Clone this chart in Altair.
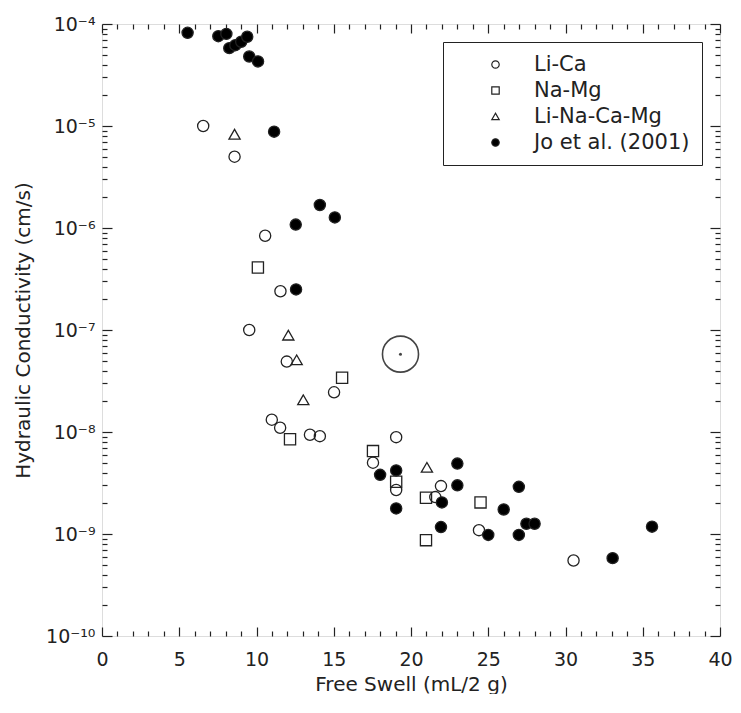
import altair as alt
import pandas as pd

# ---------------- data ----------------
series_names = ["Li-Ca", "Na-Mg", "Li-Na-Ca-Mg", "Jo et al. (2001)"]

lica_swell = [6.55, 8.58, 10.56, 11.55, 9.53, 11.96, 15.02, 10.99, 11.53, 13.46,
              14.1, 19.04, 17.54, 19.04, 21.94, 21.57, 24.4, 30.52]
lica_k = [1.0e-5, 5.0e-6, 8.4e-7, 2.4e-7, 1.0e-7, 4.9e-8, 2.45e-8, 1.32e-8, 1.1e-8, 9.4e-9,
          9.1e-9, 8.9e-9, 5.0e-9, 2.7e-9, 2.95e-9, 2.3e-9, 1.09e-9, 5.5e-10]

namg_swell = [10.09, 15.54, 12.17, 17.54, 19.04, 20.97, 24.5, 20.97]
namg_k = [4.1e-7, 3.4e-8, 8.5e-9, 6.5e-9, 3.25e-9, 2.27e-9, 2.04e-9, 8.7e-10]

mix_swell = [8.58, 12.06, 12.6, 13.03, 21.03]
mix_k = [8.3e-6, 8.9e-8, 5.1e-8, 2.07e-8, 4.5e-9]

jo_swell = [5.54, 7.53, 8.05, 8.24, 8.63, 9.01, 9.40, 9.53, 10.1, 11.14,
            14.1, 15.07, 12.54, 12.56, 18.0, 19.04, 19.04, 23.0, 23.0, 22.0,
            21.94, 25.0, 26.0, 26.98, 26.98, 27.47, 28.0, 33.05, 35.6]
jo_k = [8.2e-5, 7.6e-5, 8.0e-5, 5.8e-5, 6.2e-5, 6.7e-5, 7.5e-5, 4.8e-5, 4.3e-5, 8.8e-6,
        1.68e-6, 1.27e-6, 1.08e-6, 2.5e-7, 3.8e-9, 4.2e-9, 1.78e-9, 4.9e-9, 3.0e-9, 2.04e-9,
        1.17e-9, 9.8e-10, 1.74e-9, 2.9e-9, 9.8e-10, 1.26e-9, 1.26e-9, 5.8e-10, 1.18e-9]

highlight_swell = [19.32]
highlight_k = [5.8e-8]

x_major = [0, 5, 10, 15, 20, 25, 30, 35, 40]
x_minor = [v for v in range(0, 41) if v % 5 != 0]
y_major = [1e-10, 1e-9, 1e-8, 1e-7, 1e-6, 1e-5, 1e-4]
y_minor = [m * 10.0 ** e for e in range(-10, -4) for m in range(2, 10)]
y_tick_labels = ["10⁻¹⁰", "10⁻⁹", "10⁻⁸", "10⁻⁷", "10⁻⁶", "10⁻⁵", "10⁻⁴"]

rows = []
for name, xs, ks in zip(series_names,
                        [lica_swell, namg_swell, mix_swell, jo_swell],
                        [lica_k, namg_k, mix_k, jo_k]):
    for a, b in zip(xs, ks):
        rows.append({"series": name, "swell": a, "k": b})
df = pd.DataFrame(rows)
hl = pd.DataFrame({"swell": highlight_swell, "k": highlight_k})

# ---------------- styling ----------------
FONT = "DejaVu Sans"
INK = "#222222"
W, H = 618, 612
MAJ, MIN = 9, 5

xscale = alt.Scale(domain=[0, 40], nice=False, zero=False)
yscale = alt.Scale(type="log", domain=[1e-10, 1e-4], nice=False)

label_expr = "[" + ",".join("'%s'" % s for s in y_tick_labels) + "][round(log(datum.value)/LN10) + 10]"


def xaxis(orient, values, size, main=False):
    kw = dict(orient=orient, values=values, tickSize=size, offset=-size, domain=False,
              grid=False, tickColor=INK, tickWidth=1.2)
    if main:
        kw.update(title="Free Swell (mL/2 g)", labelFont=FONT, labelFontSize=19,
                  labelColor=INK, labelPadding=14, titleFont=FONT, titleFontSize=20,
                  titleFontWeight="normal", titleColor=INK, titlePadding=5,
                  format="d", labelFlush=False)
    else:
        kw.update(labels=False, title=None)
    return alt.Axis(**kw)


def yaxis(orient, values, size, main=False):
    kw = dict(orient=orient, values=values, tickSize=size, offset=-size, domain=False,
              grid=False, tickColor=INK, tickWidth=1.2)
    if main:
        kw.update(title="Hydraulic Conductivity (cm/s)", labelFont=FONT, labelFontSize=19,
                  labelColor=INK, labelPadding=7, labelExpr=label_expr,
                  titleFont=FONT, titleFontSize=20, titleFontWeight="normal",
                  titleColor=INK, titlePadding=12, labelFlush=False)
    else:
        kw.update(labels=False, title=None)
    return alt.Axis(**kw)


legend = alt.Legend(title=None, orient="top-right", offset=18, strokeColor=INK,
                    fillColor="white", padding=12, labelFont=FONT, labelFontSize=21,
                    labelColor=INK, symbolSize=55, symbolStrokeWidth=1.2,
                    symbolOffset=30, labelOffset=28, rowPadding=4)

points = alt.Chart(df).mark_point(filled=True, size=125, strokeWidth=1.3,
                                  opacity=1).encode(
    x=alt.X("swell:Q", scale=xscale, axis=xaxis("bottom", x_major, MAJ, True)),
    y=alt.Y("k:Q", scale=yscale, axis=yaxis("left", y_major, MAJ + 1, True)),
    shape=alt.Shape("series:N", scale=alt.Scale(domain=series_names,
                    range=["circle", "square", "triangle-up", "circle"]), legend=legend),
    fill=alt.Fill("series:N", scale=alt.Scale(domain=series_names,
                  range=["transparent", "transparent", "transparent", "black"]), legend=legend),
    stroke=alt.Stroke("series:N", scale=alt.Scale(domain=series_names,
                      range=[INK, INK, INK, INK]), legend=legend),
)

ghost = alt.Chart(df).mark_point(opacity=0)
minor_bl = ghost.encode(
    x=alt.X("swell:Q", scale=xscale, axis=xaxis("bottom", x_minor, MIN)),
    y=alt.Y("k:Q", scale=yscale, axis=yaxis("left", y_minor, MIN)),
)
major_tr = ghost.encode(
    x=alt.X("swell:Q", scale=xscale, axis=xaxis("top", x_major, MAJ)),
    y=alt.Y("k:Q", scale=yscale, axis=yaxis("right", y_major, MAJ + 1)),
)
minor_tr = ghost.encode(
    x=alt.X("swell:Q", scale=xscale, axis=xaxis("top", x_minor, MIN)),
    y=alt.Y("k:Q", scale=yscale, axis=yaxis("right", y_minor, MIN)),
)

ring = alt.Chart(hl).mark_point(size=1300, stroke="#444444", strokeWidth=1.6,
                                filled=False, opacity=1).encode(
    x=alt.X("swell:Q", scale=xscale, axis=None),
    y=alt.Y("k:Q", scale=yscale, axis=None),
)
dot = alt.Chart(hl).mark_point(size=9, filled=True, color="#444444", opacity=1).encode(
    x=alt.X("swell:Q", scale=xscale, axis=None),
    y=alt.Y("k:Q", scale=yscale, axis=None),
)

chart = alt.layer(points, minor_bl, major_tr, minor_tr, ring, dot).resolve_axis(
    x="independent", y="independent"
).properties(
    width=W, height=H, padding={"left": 5, "top": 7, "right": 0, "bottom": 0}
).configure_view(
    stroke=INK, strokeWidth=1.5
).configure(background="white")

chart.save("out.html", embed_options={"renderer": "svg", "actions": False})
